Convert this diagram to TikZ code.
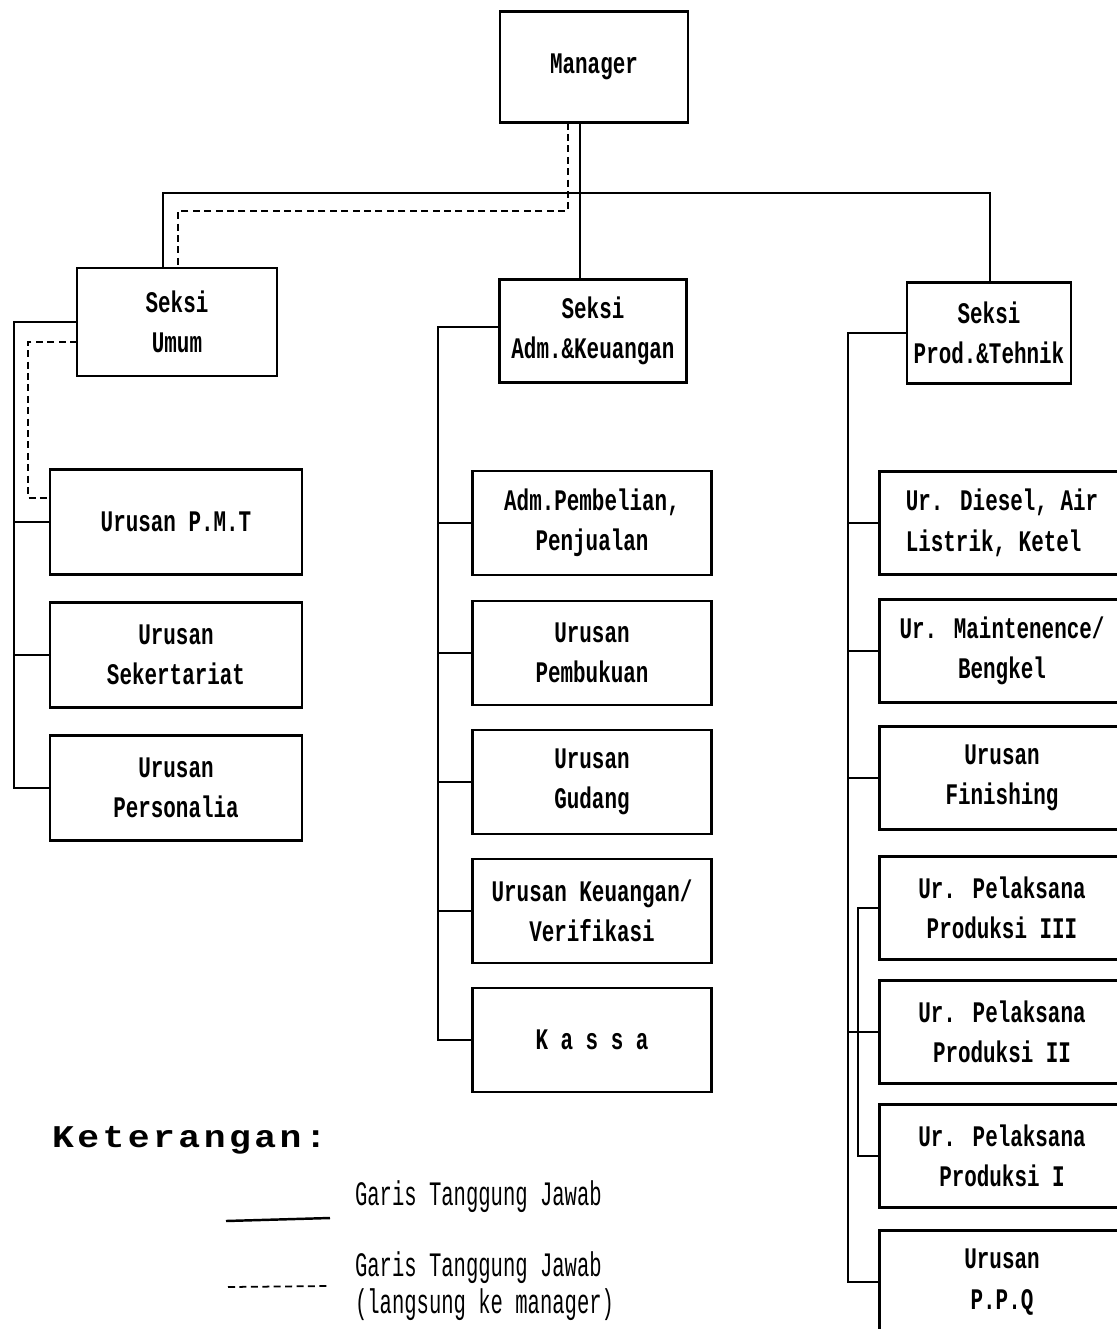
\documentclass[tikz,border=0pt]{standalone}
\usepackage{fontspec}
\usepackage{tikz}
\newfontfamily\boxfont[FakeStretch=0.7]{Liberation Mono}
\newfontfamily\legendfont[FakeStretch=0.6]{Liberation Mono}
\newfontfamily\ketfont[FakeStretch=1.15,LetterSpace=11]{Liberation Mono}

\begin{document}
\begin{tikzpicture}[x=0.02cm, y=-0.02cm,
  every node/.style={outer sep=0pt, inner sep=0pt},
  unit/.style={draw, line width=1.6pt, align=center, font=\boxfont\bfseries\fontsize{17pt}{23pt}\selectfont},
  kiri/.style={unit, minimum width=5.04cm, minimum height=2.1cm},
  tengah/.style={unit, minimum width=4.78cm, minimum height=2.08cm},
  kanan/.style={unit, minimum width=4.9cm, minimum height=2.06cm},
  garis/.style={line width=0.9pt},
  langsung/.style={line width=1pt, dash pattern=on 4pt off 2.5pt}]
\useasboundingbox (0,0) rectangle (1116,1329);

\node[unit, minimum width=3.76cm, minimum height=2.22cm] (manager) at (594,67) {Manager};

\node[unit, minimum width=4cm, minimum height=2.16cm] (umum) at (177,322) {Seksi\\Umum};
\node[unit, minimum width=3.74cm, minimum height=2.06cm] (adm) at (593,331) {Seksi\\Adm.\&Keuangan};
\node[unit, minimum width=3.28cm, minimum height=2.02cm] (prod) at (989,333) {Seksi\\Prod.\&Tehnik};

\node[kiri] (pmt) at (176,522) {Urusan P.M.T};
\node[kiri] (sek) at (176,655) {Urusan\\Sekertariat};
\node[kiri] (pers) at (176,788) {Urusan\\Personalia};

\node[tengah] (beli) at (592,523) {Adm.Pembelian,\\Penjualan};
\node[tengah] (buku) at (592,653) {Urusan\\Pembukuan};
\node[tengah] (gudang) at (592,782) {Urusan\\Gudang};
\node[tengah] (uang) at (592,911) {Urusan Keuangan/\\Verifikasi};
\node[tengah] (kassa) at (592,1040) {K a s s a};

\node[kanan, align=left] (diesel) at (1002,523) {Ur. Diesel, Air\\Listrik, Ketel};
\node[kanan] (maint) at (1002,651) {Ur. Maintenence/\\Bengkel};
\node[kanan] (finish) at (1002,778) {Urusan\\Finishing};
\node[kanan] (p3) at (1002,908) {Ur. Pelaksana\\Produksi III};
\node[kanan] (p2) at (1002,1032) {Ur. Pelaksana\\Produksi II};
\node[kanan] (p1) at (1002,1156) {Ur. Pelaksana\\Produksi I};
\node[kanan] (ppq) at (1002,1282) {Urusan\\P.P.Q};

% garis dari manager
\coordinate (hub) at (580,193);
\coordinate (tl) at (163,193);
\coordinate (tr) at (990,193);
\draw[garis] (manager.south -| hub) -- (adm.north -| hub);
\draw[garis] (umum.north -| tl) -- (tl) -- (tr) -- (prod.north -| tr);
\coordinate (dr) at (568,211);
\coordinate (dl) at (178,211);
\draw[langsung] (manager.south -| dr) -- (dr) -- (dl) -- (umum.north -| dl);

% seksi umum
\coordinate (sl) at (14,0);
\draw[garis] (umum.west) -| (sl |- pers.west) -- (pers.west);
\foreach \u in {pmt,sek}
  \draw[garis] (sl |- \u.west) -- (\u.west);
\coordinate (dk) at (28,498);
\draw[langsung] ([yshift=-0.4cm]umum.west) -| (dk) -- (dk -| pmt.west);

% seksi adm
\coordinate (sm) at (438,0);
\draw[garis] ([yshift=0.08cm]adm.west) -| (sm |- kassa.west) -- (kassa.west);
\foreach \u in {beli,buku,gudang,uang}
  \draw[garis] (sm |- \u.west) -- (\u.west);

% seksi prod
\coordinate (sr) at (848,0);
\coordinate (sp) at (858,0);
\draw[garis] (prod.west) -| (sr |- ppq.west) -- (ppq.west);
\foreach \u in {diesel,maint,finish,p2}
  \draw[garis] (sr |- \u.west) -- (\u.west);
\draw[garis] (p3.west) -| (sp |- p1.west) -- (p1.west);

% keterangan
\node[anchor=west, font=\ketfont\bfseries\fontsize{18pt}{20pt}\selectfont] (ket) at (52,1140) {Keterangan:};
\node[anchor=west, font=\legendfont\fontsize{19.5pt}{22pt}\selectfont] (tj) at (355,1197) {Garis Tanggung Jawab};
\node[anchor=north west, align=left, font=\legendfont\fontsize{19.5pt}{21pt}\selectfont] (tjl) at (355,1252) {Garis Tanggung Jawab\\(langsung ke manager)};
\coordinate (ga) at (226,1221);
\coordinate (gb) at (330,1218);
\draw[garis, line width=1.4pt] (ga) -- (gb);
\coordinate (da) at (228,1287);
\coordinate (db) at (328,1286);
\draw[langsung] (da) -- (db);
\end{tikzpicture}
\end{document}
